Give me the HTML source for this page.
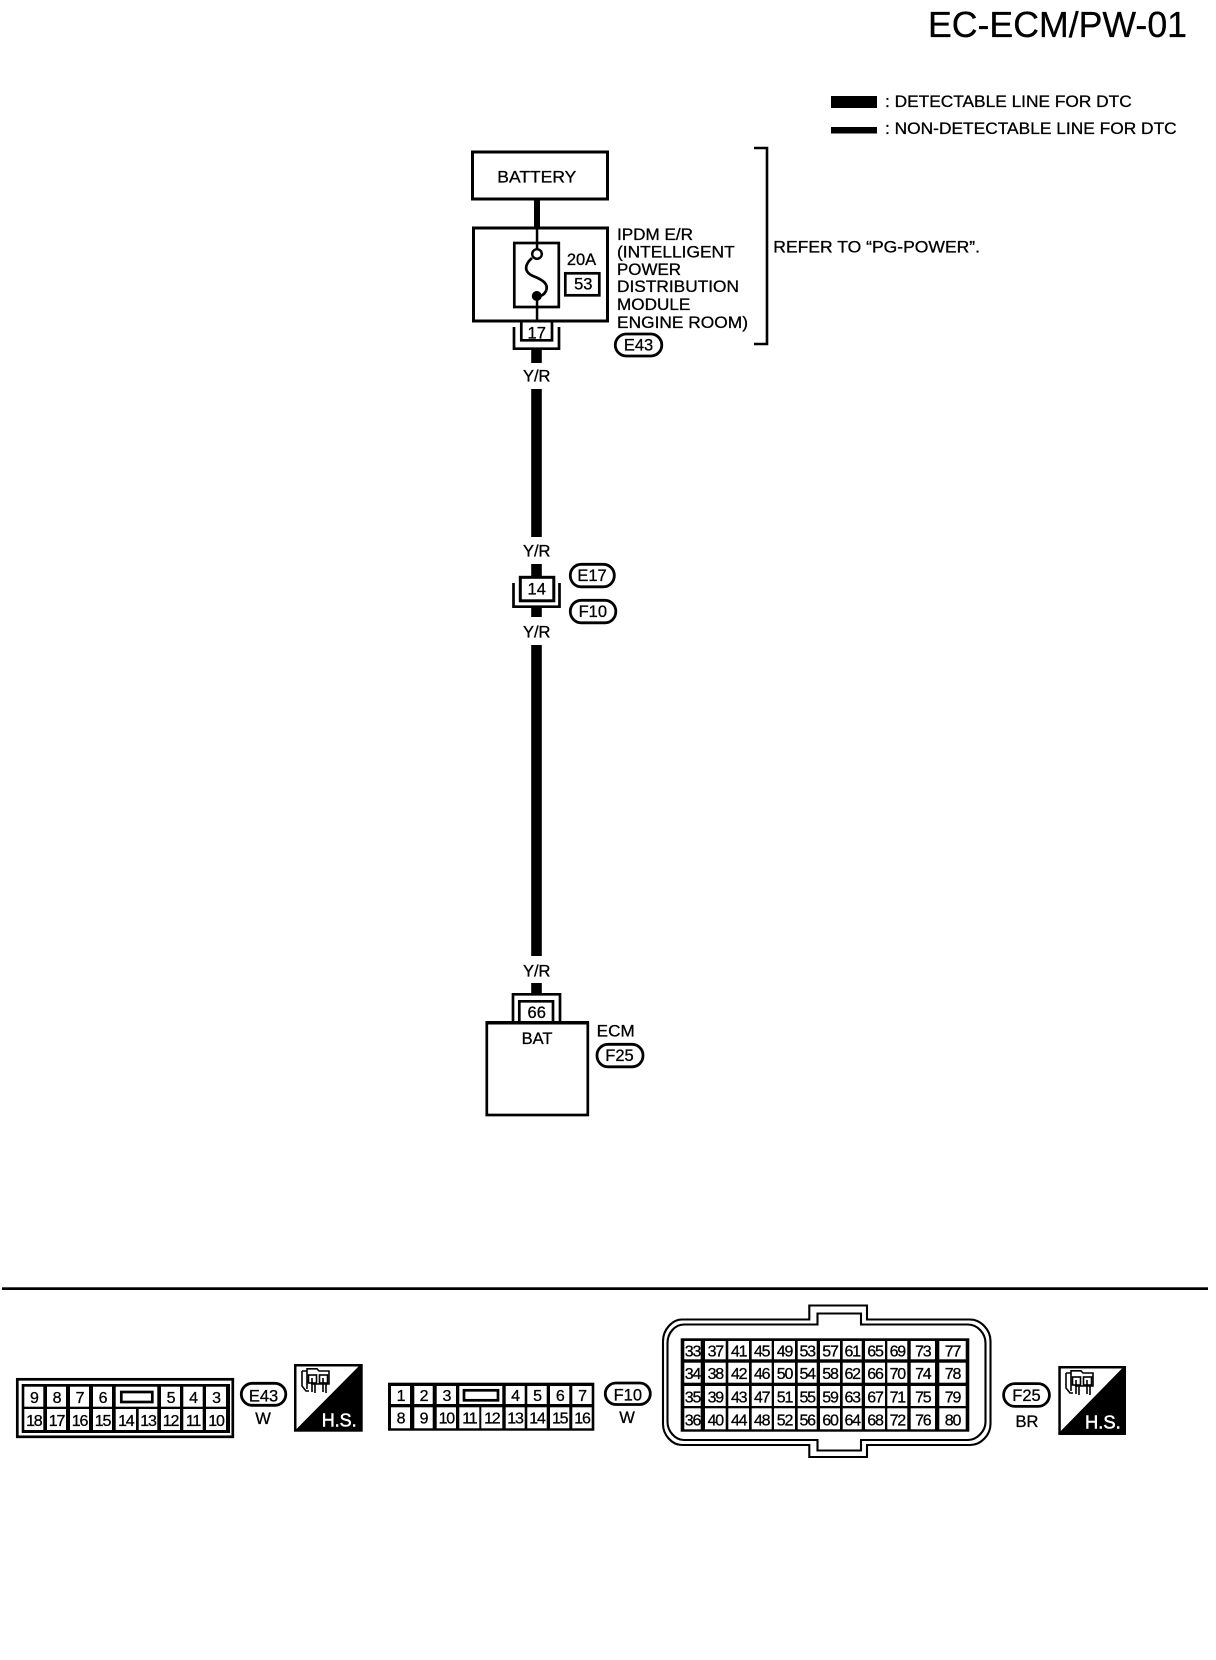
<!DOCTYPE html>
<html>
<head>
<meta charset="utf-8">
<style>
html,body{margin:0;padding:0;background:#fff;}
svg{display:block;}
text{font-family:"Liberation Sans",sans-serif;font-size:16.5px;fill:#000;stroke:#000;stroke-width:.3px;}
.c{text-anchor:middle;}
.p{text-anchor:middle;font-size:16px;letter-spacing:-1.2px;}
.o{fill:#fff;stroke:#000;stroke-width:2.8;}
.n{fill:none;stroke:#000;stroke-width:2.7;}
.s{fill:none;stroke:#000;stroke-width:2.1;}
.w{fill:#fff;}
.k{fill:#000;}
text.hs{fill:#fff;stroke:#fff;stroke-width:.5px;font-size:18.5px;}
.i{fill:none;stroke:#000;stroke-width:1.6;}
</style>
</head>
<body>
<svg width="1216" height="1660" viewBox="0 0 1216 1660" xmlns="http://www.w3.org/2000/svg">
<rect width="1216" height="1660" fill="#fff"/>

<!-- Title and legend -->
<text x="928" y="37" style="font-size:36px" textLength="259" lengthAdjust="spacingAndGlyphs">EC-ECM/PW-01</text>
<rect class="k" x="831" y="96" width="46" height="12"/>
<rect class="k" x="831" y="127" width="46" height="6.5"/>
<text x="885" y="107" textLength="246.7" lengthAdjust="spacingAndGlyphs">: DETECTABLE LINE FOR DTC</text>
<text x="885" y="134" textLength="291.7" lengthAdjust="spacingAndGlyphs">: NON-DETECTABLE LINE FOR DTC</text>

<!-- Wires -->
<rect class="k" x="534" y="199" width="6" height="29"/>
<rect class="k" x="535.8" y="228" width="2.5" height="26"/>
<rect class="k" x="535.8" y="296" width="2.5" height="26"/>
<rect class="k" x="531.2" y="350" width="10.6" height="13"/>
<rect class="k" x="531.2" y="389" width="10.6" height="148"/>
<rect class="k" x="531.2" y="564" width="10.6" height="13"/>
<rect class="k" x="531.2" y="607" width="10.6" height="10"/>
<rect class="k" x="531.2" y="645" width="10.6" height="311"/>
<rect class="k" x="531.2" y="983" width="10.6" height="11"/>

<!-- Battery -->
<rect class="o" x="472.5" y="152" width="135" height="47" style="stroke-width:3"/>
<text x="497.3" y="182.7" style="font-size:17px" textLength="79" lengthAdjust="spacingAndGlyphs">BATTERY</text>

<!-- IPDM -->
<rect class="n" x="473.5" y="228" width="134" height="93" style="stroke-width:3"/>
<rect class="n" x="514.3" y="243" width="44.5" height="64"/>
<path class="n" d="M532,258 C524,265 524,272 533,276 C543,280 549,284 546,291 C544,295 541,296 537,297"/>
<circle cx="537" cy="254" r="4.8" fill="#fff" stroke="#000" stroke-width="2.4"/>
<circle cx="536.8" cy="296" r="5" fill="#000"/>
<text x="581.5" y="265" class="c">20A</text>
<rect class="n" x="565.3" y="273.3" width="34" height="22"/>
<text x="583.3" y="289.3" class="c">53</text>
<text x="617" y="240" textLength="76" lengthAdjust="spacingAndGlyphs">IPDM E/R</text>
<text x="617" y="257.7" textLength="117.7" lengthAdjust="spacingAndGlyphs">(INTELLIGENT</text>
<text x="617" y="275" textLength="64" lengthAdjust="spacingAndGlyphs">POWER</text>
<text x="617" y="292" textLength="122" lengthAdjust="spacingAndGlyphs">DISTRIBUTION</text>
<text x="617" y="310" textLength="73.3" lengthAdjust="spacingAndGlyphs">MODULE</text>
<text x="617" y="328" textLength="131" lengthAdjust="spacingAndGlyphs">ENGINE ROOM)</text>
<rect class="o" x="615.3" y="334" width="46.5" height="22" rx="11"/>
<text x="638.5" y="350.5" class="c">E43</text>

<!-- Bracket -->
<path class="n" d="M754,148 H767 V344 H754" style="stroke-width:2.6"/>
<text x="773.3" y="252.3" textLength="206.7" lengthAdjust="spacingAndGlyphs">REFER TO “PG-POWER”.</text>

<!-- Connector 17 -->
<path class="n" d="M514,327 V348.7 H559 V327"/>
<path class="n" d="M521.3,322 V340.3 H552 V322"/>
<text x="536.7" y="338.3" class="c">17</text>
<text x="536.7" y="381.7" class="c">Y/R</text>

<!-- Connector 14 -->
<text x="536.7" y="556.7" class="c">Y/R</text>
<path class="n" d="M513.5,583 V606.7 H559.5 V583"/>
<rect class="o" x="520.3" y="577.3" width="33.5" height="23.5" style="stroke-width:3"/>
<text x="536.7" y="594.3" class="c">14</text>
<rect class="o" x="570.3" y="564.3" width="44" height="22.5" rx="11"/>
<text x="592" y="581" class="c">E17</text>
<rect class="o" x="570.3" y="600.3" width="45.5" height="22.5" rx="11"/>
<text x="592.8" y="617" class="c">F10</text>
<text x="536.7" y="637.7" class="c">Y/R</text>

<!-- ECM -->
<text x="536.7" y="976.7" class="c">Y/R</text>
<path class="n" d="M513,1021 V994.3 H560 V1021"/>
<path class="n" d="M519.3,1021 V1001.3 H553 V1021"/>
<text x="536.7" y="1018" class="c">66</text>
<rect class="n" x="486.8" y="1023" width="101" height="92"/>
<rect class="k" x="485.5" y="1021" width="103.5" height="3.5"/>
<text x="537" y="1044" class="c">BAT</text>
<text x="596.7" y="1036.7" textLength="38" lengthAdjust="spacingAndGlyphs">ECM</text>
<rect class="o" x="597" y="1044.3" width="46" height="22.5" rx="11"/>
<text x="619.5" y="1061" class="c">F25</text>

<!-- Divider -->
<rect class="k" x="2" y="1287.3" width="1206" height="2.7"/>

<!-- E43 connector -->
<rect class="n" x="17.3" y="1379.3" width="215.5" height="57.5"/>
<rect class="k" x="21.7" y="1384" width="208.3" height="49"/>
<g class="w">
<rect x="24.3" y="1386.7" width="19" height="20"/><rect x="47" y="1386.7" width="19" height="20"/><rect x="70" y="1386.7" width="19" height="20"/><rect x="93" y="1386.7" width="19" height="20"/><rect x="115.7" y="1386.7" width="41.6" height="20"/><rect x="161" y="1386.7" width="19" height="20"/><rect x="183.3" y="1386.7" width="19.4" height="20"/><rect x="206" y="1386.7" width="20" height="20"/>
<rect x="24.3" y="1409" width="19" height="21"/><rect x="47" y="1409" width="19" height="21"/><rect x="70" y="1409" width="19" height="21"/><rect x="93" y="1409" width="19" height="21"/><rect x="115.7" y="1409" width="20.3" height="21"/><rect x="138.7" y="1409" width="18.6" height="21"/><rect x="161" y="1409" width="19" height="21"/><rect x="183.3" y="1409" width="19.4" height="21"/><rect x="206" y="1409" width="20" height="21"/>
</g>
<rect class="n" x="121.3" y="1392" width="31" height="10"/>
<text class="p" x="33.8" y="1403">9</text><text class="p" x="56.5" y="1403">8</text><text class="p" x="79.5" y="1403">7</text><text class="p" x="102.5" y="1403">6</text><text class="p" x="170.5" y="1403">5</text><text class="p" x="193" y="1403">4</text><text class="p" x="216" y="1403">3</text>
<text class="p" x="33.8" y="1426">18</text><text class="p" x="56.5" y="1426">17</text><text class="p" x="79.5" y="1426">16</text><text class="p" x="102.5" y="1426">15</text><text class="p" x="125.8" y="1426">14</text><text class="p" x="148" y="1426">13</text><text class="p" x="170.5" y="1426">12</text><text class="p" x="193" y="1426">11</text><text class="p" x="216" y="1426">10</text>
<rect class="o" x="241.3" y="1383.3" width="44.5" height="22" rx="11"/>
<text x="263.5" y="1401.5" class="c">E43</text>
<text x="263" y="1424" class="c">W</text>

<!-- H.S. 1 -->
<g>
<rect x="294" y="1364" width="68.7" height="67.7" fill="#000"/>
<polygon class="w" points="296.5,1366.5 358.5,1366.5 296.5,1429"/>
<path class="i" d="M302,1371 H307 V1368.8 H317 L319,1371 H329 V1384 H311 M302,1371 V1386 L306,1391 H309 M307,1371 V1389"/>
<rect class="i" x="308.5" y="1375" width="8" height="8"/>
<rect class="i" x="319.5" y="1375" width="8" height="8"/>
<path class="i" d="M312,1378 V1392 M315,1383 V1393 M323,1378 V1392 M326,1383 V1393"/>
<text class="hs" x="321.7" y="1426.7" textLength="35" lengthAdjust="spacingAndGlyphs">H.S.</text>
</g>

<!-- F10 connector -->
<rect class="k" x="388" y="1382.7" width="206.3" height="48"/>
<g class="w">
<rect x="391" y="1386" width="19" height="18"/><rect x="414.3" y="1386" width="18.4" height="18"/><rect x="436.7" y="1386" width="19.3" height="18"/><rect x="459.3" y="1386" width="43" height="18"/><rect x="505.7" y="1386" width="19" height="18"/><rect x="527.3" y="1386" width="19.4" height="18"/><rect x="550" y="1386" width="19.3" height="18"/><rect x="572.3" y="1386" width="19.4" height="18"/>
<rect x="391" y="1407.3" width="19" height="21"/><rect x="414.3" y="1407.3" width="18.4" height="21"/><rect x="436.7" y="1407.3" width="19.3" height="21"/><rect x="459.3" y="1407.3" width="20" height="21"/><rect x="481.3" y="1407.3" width="21" height="21"/><rect x="505.7" y="1407.3" width="19" height="21"/><rect x="527.3" y="1407.3" width="19.4" height="21"/><rect x="550" y="1407.3" width="19.3" height="21"/><rect x="572.3" y="1407.3" width="19.4" height="21"/>
</g>
<rect class="n" x="464" y="1390.3" width="34" height="10"/>
<text class="p" x="400.5" y="1401">1</text><text class="p" x="423.5" y="1401">2</text><text class="p" x="446.3" y="1401">3</text><text class="p" x="515" y="1401">4</text><text class="p" x="537" y="1401">5</text><text class="p" x="559.7" y="1401">6</text><text class="p" x="582" y="1401">7</text>
<text class="p" x="400.5" y="1423.5">8</text><text class="p" x="423.5" y="1423.5">9</text><text class="p" x="446.3" y="1423.5">10</text><text class="p" x="469.3" y="1423.5">11</text><text class="p" x="491.8" y="1423.5">12</text><text class="p" x="515" y="1423.5">13</text><text class="p" x="537" y="1423.5">14</text><text class="p" x="559.7" y="1423.5">15</text><text class="p" x="582" y="1423.5">16</text>
<rect class="o" x="605.3" y="1383" width="45" height="21.5" rx="10.7"/>
<text x="627.8" y="1400.5" class="c">F10</text>
<text x="627" y="1423" class="c">W</text>

<!-- F25 connector shell -->
<path class="s" d="M682,1319.5 H809.3 V1305.5 H867 V1319.5 H970 C981,1319.5 990.5,1330 990.5,1341 V1424 C990.5,1435 981,1445 970,1445 H867 V1457 H809.3 V1445 H682 C672,1445 663,1435 663,1424 V1341 C663,1330 672,1319.5 682,1319.5 Z"/>
<path class="s" d="M684,1324.5 H817.5 V1313.5 H861 V1324.5 H968 C977,1324.5 985.5,1333 985.5,1343 V1422 C985.5,1431 977,1440 968,1440 H861 V1450.5 H817.5 V1440 H684 C675,1440 667.5,1431 667.5,1422 V1343 C667.5,1333 675,1324.5 684,1324.5 Z"/>
<rect class="k" x="680.7" y="1338.3" width="288.6" height="93.4"/>
<g class="w">
<rect x="684.3" y="1341" width="16.4" height="18.3"/><rect x="705" y="1341" width="20.7" height="18.3"/><rect x="728.3" y="1341" width="20.7" height="18.3"/><rect x="751.7" y="1341" width="20" height="18.3"/><rect x="774" y="1341" width="21" height="18.3"/><rect x="797.7" y="1341" width="19" height="18.3"/><rect x="820" y="1341" width="20" height="18.3"/><rect x="842.7" y="1341" width="19" height="18.3"/><rect x="865" y="1341" width="20" height="18.3"/><rect x="887.3" y="1341" width="20" height="18.3"/><rect x="910.7" y="1341" width="24.3" height="18.3"/><rect x="939.3" y="1341" width="26.4" height="18.3"/>
<rect x="684.3" y="1362.7" width="16.4" height="20"/><rect x="705" y="1362.7" width="20.7" height="20"/><rect x="728.3" y="1362.7" width="20.7" height="20"/><rect x="751.7" y="1362.7" width="20" height="20"/><rect x="774" y="1362.7" width="21" height="20"/><rect x="797.7" y="1362.7" width="19" height="20"/><rect x="820" y="1362.7" width="20" height="20"/><rect x="842.7" y="1362.7" width="19" height="20"/><rect x="865" y="1362.7" width="20" height="20"/><rect x="887.3" y="1362.7" width="20" height="20"/><rect x="910.7" y="1362.7" width="24.3" height="20"/><rect x="939.3" y="1362.7" width="26.4" height="20"/>
<rect x="684.3" y="1386" width="16.4" height="20"/><rect x="705" y="1386" width="20.7" height="20"/><rect x="728.3" y="1386" width="20.7" height="20"/><rect x="751.7" y="1386" width="20" height="20"/><rect x="774" y="1386" width="21" height="20"/><rect x="797.7" y="1386" width="19" height="20"/><rect x="820" y="1386" width="20" height="20"/><rect x="842.7" y="1386" width="19" height="20"/><rect x="865" y="1386" width="20" height="20"/><rect x="887.3" y="1386" width="20" height="20"/><rect x="910.7" y="1386" width="24.3" height="20"/><rect x="939.3" y="1386" width="26.4" height="20"/>
<rect x="684.3" y="1408.3" width="16.4" height="21"/><rect x="705" y="1408.3" width="20.7" height="21"/><rect x="728.3" y="1408.3" width="20.7" height="21"/><rect x="751.7" y="1408.3" width="20" height="21"/><rect x="774" y="1408.3" width="21" height="21"/><rect x="797.7" y="1408.3" width="19" height="21"/><rect x="820" y="1408.3" width="20" height="21"/><rect x="842.7" y="1408.3" width="19" height="21"/><rect x="865" y="1408.3" width="20" height="21"/><rect x="887.3" y="1408.3" width="20" height="21"/><rect x="910.7" y="1408.3" width="24.3" height="21"/><rect x="939.3" y="1408.3" width="26.4" height="21"/>
</g>
<text class="p" x="692.5" y="1356.7">33</text><text class="p" x="715.3" y="1356.7">37</text><text class="p" x="738.7" y="1356.7">41</text><text class="p" x="761.7" y="1356.7">45</text><text class="p" x="784.5" y="1356.7">49</text><text class="p" x="807.2" y="1356.7">53</text><text class="p" x="830" y="1356.7">57</text><text class="p" x="852.2" y="1356.7">61</text><text class="p" x="875" y="1356.7">65</text><text class="p" x="897.3" y="1356.7">69</text><text class="p" x="922.8" y="1356.7">73</text><text class="p" x="952.5" y="1356.7">77</text>
<text class="p" x="692.5" y="1379">34</text><text class="p" x="715.3" y="1379">38</text><text class="p" x="738.7" y="1379">42</text><text class="p" x="761.7" y="1379">46</text><text class="p" x="784.5" y="1379">50</text><text class="p" x="807.2" y="1379">54</text><text class="p" x="830" y="1379">58</text><text class="p" x="852.2" y="1379">62</text><text class="p" x="875" y="1379">66</text><text class="p" x="897.3" y="1379">70</text><text class="p" x="922.8" y="1379">74</text><text class="p" x="952.5" y="1379">78</text>
<text class="p" x="692.5" y="1402.3">35</text><text class="p" x="715.3" y="1402.3">39</text><text class="p" x="738.7" y="1402.3">43</text><text class="p" x="761.7" y="1402.3">47</text><text class="p" x="784.5" y="1402.3">51</text><text class="p" x="807.2" y="1402.3">55</text><text class="p" x="830" y="1402.3">59</text><text class="p" x="852.2" y="1402.3">63</text><text class="p" x="875" y="1402.3">67</text><text class="p" x="897.3" y="1402.3">71</text><text class="p" x="922.8" y="1402.3">75</text><text class="p" x="952.5" y="1402.3">79</text>
<text class="p" x="692.5" y="1425.7">36</text><text class="p" x="715.3" y="1425.7">40</text><text class="p" x="738.7" y="1425.7">44</text><text class="p" x="761.7" y="1425.7">48</text><text class="p" x="784.5" y="1425.7">52</text><text class="p" x="807.2" y="1425.7">56</text><text class="p" x="830" y="1425.7">60</text><text class="p" x="852.2" y="1425.7">64</text><text class="p" x="875" y="1425.7">68</text><text class="p" x="897.3" y="1425.7">72</text><text class="p" x="922.8" y="1425.7">76</text><text class="p" x="952.5" y="1425.7">80</text>
<rect class="o" x="1003.6" y="1383.6" width="45.8" height="22.8" rx="11.4"/>
<text x="1026.5" y="1401.2" class="c">F25</text>
<text x="1027" y="1427" class="c">BR</text>

<!-- H.S. 2 -->
<g>
<rect x="1058.3" y="1366" width="67.7" height="69" fill="#000"/>
<polygon class="w" points="1060.8,1368.5 1122,1368.5 1060.8,1431"/>
<path class="i" d="M1066,1373 H1071 V1370.8 H1081 L1083,1373 H1093 V1386 H1075 M1066,1373 V1388 L1070,1393 H1073 M1071,1373 V1391"/>
<rect class="i" x="1072.5" y="1377" width="8" height="8"/>
<rect class="i" x="1083.5" y="1377" width="8" height="8"/>
<path class="i" d="M1076,1380 V1394 M1079,1385 V1395 M1087,1380 V1394 M1090,1385 V1395"/>
<text class="hs" x="1085" y="1428.7" textLength="35.7" lengthAdjust="spacingAndGlyphs">H.S.</text>
</g>
</svg>
</body>
</html>
